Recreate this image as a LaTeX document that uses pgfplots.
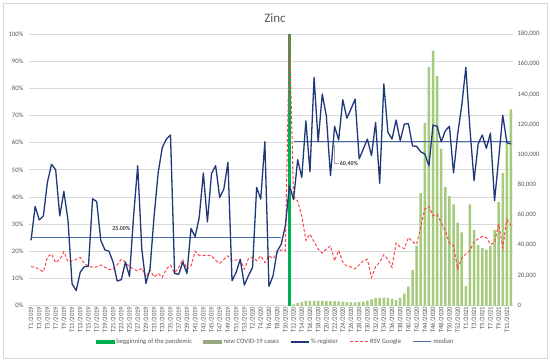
\documentclass[border=0pt]{standalone}
\usepackage{pgfplots}
\usepackage{pgfplotstable}
\pgfplotsset{compat=1.18}
\usepackage{fontspec}
\setmainfont{Carlito}
\definecolor{labelgray}{RGB}{89,89,89}
\definecolor{gridgray}{RGB}{217,217,217}
\definecolor{bordergray}{RGB}{217,217,217}
\definecolor{regblue}{RGB}{31,56,120}
\definecolor{medianblue}{RGB}{72,104,170}
\definecolor{rsvred}{RGB}{255,70,70}
\definecolor{pandgreen}{RGB}{0,176,80}
\definecolor{covidgreen}{RGB}{165,203,125}
\definecolor{covidlegend}{RGB}{150,170,130}

\pgfplotstableread{
i reg rsv
0 24 14.3
1 36.5 14.1
2 31.5 13.3
3 33 12.4
4 45.5 17.9
5 52 19
6 50 15.8
7 33 16.9
8 42 19.8
9 31.5 16.2
10 8 16.5
11 5.5 17
12 12.3 17.7
13 14.3 15.4
14 14.5 14.5
15 39.3 14.1
16 38.3 14.2
17 24 14.9
18 20.5 14.1
19 20 13.3
20 16 13.3
21 9 15
22 9.5 17
23 16 16
24 10.7 14.2
25 33 13.5
26 51.5 12.7
27 20.8 13.8
28 8.2 10.5
29 13.4 13.1
30 33 10.5
31 49 11.8
32 58.2 10.4
33 61.3 13.5
34 62.8 14.8
35 11.8 12
36 11.5 14
37 16 17
38 11.8 13.4
39 28.4 14.6
40 25.4 20
41 32.4 18.5
42 48.8 18.5
43 30.8 18.5
44 48.6 18.3
45 51.5 16.6
46 39.8 15.6
47 42.9 17
48 52.7 18.3
49 9.1 16.5
50 12.2 16.8
51 17 17
52 7.5 13.4
53 11 17.3
54 14 17.7
55 43.5 16.5
56 39.2 18.3
57 60.3 15.8
58 7 18.3
59 11 17.3
60 20 19.5
61 22.6 20.5
62 29.4 20.1
63 44.3 100
64 39 40
65 53.7 38.5
66 47.2 33
67 68 24
68 49.3 26.3
69 84 23.5
70 60.3 20.8
71 77.9 19.3
72 69.7 20.8
73 47.8 22
74 66 16.5
75 61 20.3
76 75.8 16
77 69 14.5
78 72.4 14.2
79 76 13.5
80 54 15
81 57.6 16.5
82 61.3 17
83 55.2 10.3
84 67.4 14.3
85 45 16
86 81.6 18.7
87 63.8 17
88 61.3 14
89 68.3 23
90 60.7 21.5
91 66.8 21
92 67 25
93 58.8 23.5
94 58.6 22.5
95 56.6 29
96 55.8 35.5
97 51.5 36.5
98 66.5 33
99 66 33.5
100 60.3 30.5
101 64.4 27.5
102 66 23
103 48.8 22
104 63.1 13.5
105 73.6 17.5
106 87.7 19
107 65 20.2
108 46 23.5
109 59.5 24.5
110 62.8 25.5
111 57.9 25
112 63.5 22.5
113 38.6 23.2
114 54 30
115 70.1 21.3
116 60 31.6
117 59.5 29.5
}\regdata

\pgfplotstableread{
i cases
64 800
65 1600
66 2400
67 3000
68 3000
69 3000
70 3000
71 3000
72 2900
73 2900
74 2900
75 2800
76 2500
77 2300
78 2100
79 2100
80 2300
81 2600
82 3200
83 4000
84 4900
85 5100
86 5200
87 5100
88 4400
89 3500
90 5000
91 7800
92 12500
93 23500
94 39500
95 74500
96 121000
97 158000
98 169000
99 152000
100 104000
101 78500
102 72500
103 67000
104 55000
105 48500
106 13000
107 67000
108 50000
109 40000
110 38000
111 37000
112 39500
113 50000
114 68500
115 88000
116 109000
117 130000
}\casedata

\begin{document}
\begin{tikzpicture}[x=1bp,y=1bp]
\pgfplotsset{
  base/.style={
    scale only axis, width=484bp, height=271.5bp,
    at={(29bp,56.5bp)}, anchor=south west,
    xmin=-0.5, xmax=117.5,
    axis line style={draw=none}, tick style={draw=none},
  },
}
\draw[bordergray, line width=0.75bp, fill=white] (3,4) rectangle (547,359);
\node[font=\fontsize{13}{15}\selectfont, text=labelgray] at (275,344) {Zinc};

% axis 1: grid, labels, legend
\begin{axis}[base,
  ymin=0, ymax=100,
  ytick={0,10,...,100},
  yticklabels={0\%,10\%,20\%,30\%,40\%,50\%,60\%,70\%,80\%,90\%,100\%},
  ymajorgrids, grid style={gridgray, line width=0.7bp},
  y tick label style={font=\fontsize{6.7}{8}\selectfont, text=labelgray, xshift=-2bp},
  xtick={0,2,...,116},
  xticklabels={T1/2019,T3/2019,T5/2019,T7/2019,T9/2019,T11/2019,T13/2019,T15/2019,T17/2019,T19/2019,T21/2019,T23/2019,T25/2019,T27/2019,T29/2019,T31/2019,T33/2019,T35/2019,T37/2019,T39/2019,T41/2019,T43/2019,T45/2019,T47/2019,T49/2019,T51/2019,T53/2019,T2/2020,T4/2020,T6/2020,T8/2020,T10/2020,T12/2020,T14/2020,T16/2020,T18/2020,T20/2020,T22/2020,T24/2020,T26/2020,T28/2020,T30/2020,T32/2020,T34/2020,T36/2020,T38/2020,T40/2020,T42/2020,T44/2020,T46/2020,T48/2020,T50/2020,T52/2020,T1/2021,T3/2021,T5/2021,T7/2021,T9/2021,T11/2021},
  x tick label style={rotate=90, anchor=east, font=\fontsize{6.7}{8}\selectfont, text=labelgray, inner sep=1bp},
  legend columns=5,
  legend style={at={(0.51,-0.134)}, anchor=center, draw=none, fill=none,
    font=\fontsize{6.7}{8}\selectfont, text=labelgray,
    /tikz/every even column/.append style={column sep=9bp}},
  legend cell align=left,
]
\addlegendimage{legend image code/.code={\fill[pandgreen] (0bp,-1.4bp) rectangle (18bp,1.4bp);}}
\addlegendentry{begginning of the pandemic}
\addlegendimage{legend image code/.code={\fill[covidlegend] (0bp,-1.8bp) rectangle (18bp,1.8bp);}}
\addlegendentry{new COVID-19 cases}
\addlegendimage{legend image code/.code={\draw[regblue, line width=1.3bp] (0bp,0bp) -- (18bp,0bp);}}
\addlegendentry{\% register}
\addlegendimage{legend image code/.code={\draw[rsvred, line width=1bp, dash pattern=on 3bp off 2bp] (0bp,0bp) -- (18bp,0bp);}}
\addlegendentry{RSV Google}
\addlegendimage{legend image code/.code={\draw[medianblue, line width=1.2bp] (0bp,0bp) -- (18bp,0bp);}}
\addlegendentry{median}
\end{axis}

% axis 2: secondary, bars
\begin{axis}[base,
  ymin=0, ymax=180000,
  axis y line*=right, hide x axis,
  ytick={0,20000,40000,60000,80000,100000,120000,140000,160000,180000},
  yticklabels={0,{20,000},{40,000},{60,000},{80,000},{100,000},{120,000},{140,000},{160,000},{180,000}},
  y tick label style={font=\fontsize{6.7}{8}\selectfont, text=labelgray, xshift=1bp},
  scaled y ticks=false,
]
\addplot[ybar, bar width=2.5bp, bar shift=0pt, fill=covidgreen, draw=none] table[x=i, y=cases] {\casedata};
\end{axis}

% axis 3: lines
\begin{axis}[base, ymin=0, ymax=100, hide axis]
\addplot[ybar, bar width=2.6bp, bar shift=0pt, fill=pandgreen, draw=none] coordinates {(63,100)};
\addplot[medianblue, line width=1.2bp] coordinates {(0,25) (61,25)};
\addplot[medianblue, line width=1.2bp] coordinates {(64,60.4) (117,60.4)};
\addplot[rsvred, line width=1bp, dash pattern=on 3bp off 2bp] table[x=i, y=rsv] {\regdata};
\addplot[regblue, line width=1.3bp, line join=round] table[x=i, y=reg] {\regdata};
\node[font=\fontsize{6}{7}\selectfont\bfseries, text=black!75] at (axis cs:22,28.4) {25.00\%};
\draw[gray!70, line width=0.5bp] (axis cs:74,59) -- (axis cs:74,52.4) -- (axis cs:75,52.4);
\node[font=\fontsize{6}{7}\selectfont\bfseries, text=black!75, anchor=west, inner sep=1bp] at (axis cs:75,52.4) {60.40\%};
\end{axis}
\pgfresetboundingbox
\useasboundingbox (0,0) rectangle (550,362);
\end{tikzpicture}
\end{document}
